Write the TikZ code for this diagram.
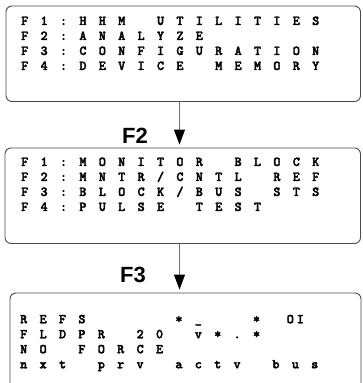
\documentclass[tikz,border=0pt]{standalone}
\usepackage{fontspec}
\newfontfamily\keyfont{Liberation Sans}
\newfontfamily\lcdfont{lmmonolt10-bold}[Extension=.otf, FakeBold=2.5]
\usetikzlibrary{arrows.meta,positioning,calc}
\definecolor{ScreenFrame}{HTML}{4A4A4A}
\definecolor{ScreenInk}{HTML}{000000}
\definecolor{ArrowShaft}{HTML}{707070}
% fixed cell width of the display characters
\newlength\lcdpitch
\setlength\lcdpitch{19.4pt}
\newcommand\lcd[1]{\strut\lcdcells#1\relax}
\def\lcdcells#1{\ifx\relax#1\else\makebox[\lcdpitch]{#1}\expandafter\lcdcells\fi}
\tikzset{
    % Display screen frame
    screenbox/.style={
        draw=ScreenFrame,
        line width=0.9pt,
        rounded corners=6pt,
        inner sep=0pt
    },
    % Display text block
    screentext/.style={
        inner sep=0pt,
        align=left,
        text=ScreenInk,
        font=\lcdfont\fontsize{13.5}{15}\selectfont
    },
    % Function key label
    fkeylabel/.style={
        inner sep=0pt,
        font=\keyfont\bfseries\fontsize{22}{22}\selectfont
    },
    % Menu step arrow
    menuarrow/.style={
        -{Triangle[length=15pt,width=11pt,color=ScreenInk]},
        line width=0.9pt,
        draw=ArrowShaft,
        shorten >=3pt
    }
}
\begin{document}
\begin{tikzpicture}[x=1pt, y=-1pt]
    \useasboundingbox (0,0) rectangle (362,383);
    \clip (0,0) rectangle (362,383);

    \node[screenbox, minimum width=354.5pt, minimum height=95.5pt] (scr1) at (183.25,53.75) {};
    \node[screenbox, minimum width=355.5pt, minimum height=95.5pt] (scr2) at (182.75,195.75) {};
    \node[screenbox, minimum width=351pt, minimum height=110pt] (scr3) at (185.5,348) {};

    \node[screentext, below right=8.7pt and 9.3pt of scr1.north west] (txt1)
        {\lcd{F1:HHM~UTILITIES}\\\lcd{F2:ANALYZE}\\\lcd{F3:CONFIGURATION}\\\lcd{F4:DEVICE~MEMORY}};
    \node[screentext, below right=7.7pt and 10.3pt of scr2.north west] (txt2)
        {\lcd{F1:MONITOR~BLOCK}\\\lcd{F2:MNTR/CNTL~REF}\\\lcd{F3:BLOCK/BUS~STS}\\\lcd{F4:PULSE~TEST}};
    \node[screentext, below right=20pt and 4.3pt of scr3.north west] (txt3)
        {\lcd{REFS~~~~*\_~~*~{O\hspace{3pt}I}}\\\lcd{FLDPR~20~v*.*}\\\lcd{NO~FORCE}\\\lcd{nxt~prv~actv~bus}};

    \coordinate (menuaxis) at (179.5,0);
    \draw[menuarrow] (scr1.south -| menuaxis) -- (scr2.north -| menuaxis);
    \draw[menuarrow] (scr2.south -| menuaxis) -- (scr3.north -| menuaxis);

    \node[fkeylabel] (key2) at (135,136) {F2};
    \node[fkeylabel] (key3) at (133,275) {F3};
\end{tikzpicture}
\end{document}
